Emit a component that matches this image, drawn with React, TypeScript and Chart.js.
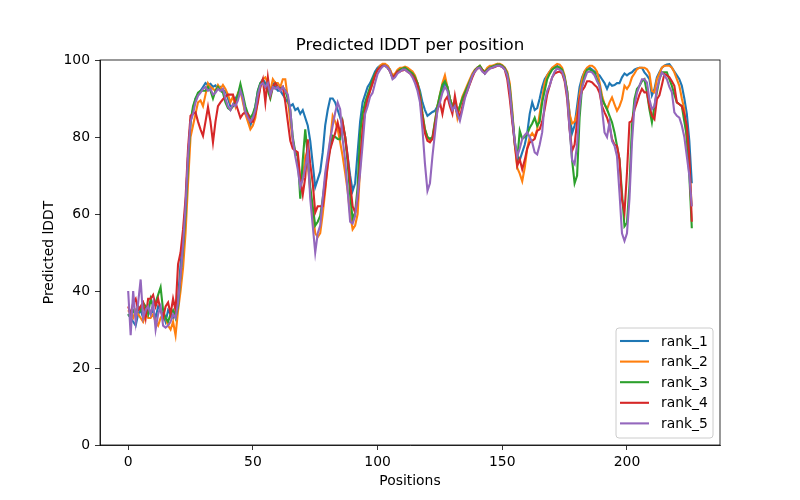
import React, { useEffect, useRef } from "react";
import { Chart, registerables } from "chart.js";

Chart.register(...registerables);

const chartTitle = "Predicted lDDT per position";
const xLabel = "Positions";
const yLabel = "Predicted lDDT";
const seriesNames = ["rank_1", "rank_2", "rank_3", "rank_4", "rank_5"];
const seriesColors = ["#1f77b4", "#ff7f0e", "#2ca02c", "#d62728", "#9467bd"];
const xTicks = [0, 50, 100, 150, 200];
const yTicks = [0, 20, 40, 60, 80, 100];

const rank1 = [
  34, 33, 32, 31, 34, 35, 33, 34, 36, 34,
  35, 33, 36, 35, 34, 32, 35, 34, 33, 35,
  38, 47, 53, 62, 75, 84, 87, 90, 91, 92,
  93, 94, 93.5, 93.8, 93, 93.4, 92.5, 93, 92, 92,
  90, 88, 88, 90, 91, 93, 90, 86, 85, 83,
  85, 88, 92, 94, 95, 94, 93, 91, 94, 93,
  92, 92, 91, 90, 89, 88, 88.5, 87, 87.5, 86,
  87, 85, 83, 79, 73, 67, 69, 71, 76, 83,
  87, 90, 90, 89, 87, 85, 83, 80, 75, 70,
  66, 68, 76, 84, 89, 91, 93, 94, 95.5, 97,
  98, 98.5, 98.7, 98.7, 98.5, 97.5, 95.5, 96, 97, 97.5,
  97.8, 98, 97.5, 97, 96.5, 95, 94, 92, 89, 87,
  85.5, 86, 86.5, 86.8, 88, 90, 92, 94, 93, 90,
  88, 88.5, 86, 88, 90, 91.5, 93, 94, 96, 97,
  98, 98, 97.5, 96.5, 97.5, 98, 98, 98.5, 99, 98.8,
  98.5, 98, 96, 92, 85, 78, 75, 74, 76, 78,
  81, 86, 89, 87, 87.5, 90, 93, 95, 96, 97,
  97.8, 98, 98.5, 98, 97, 95, 92, 86, 81, 83,
  88, 93, 95.5, 97, 97.8, 98, 97.5, 97, 96.5, 96,
  95, 94, 92.5, 94, 93.3, 93.5, 94, 94, 95.5, 96.5,
  96, 96.5, 96.8, 97.5, 97.8, 98, 98, 96.8, 96, 95,
  90.8, 92.4, 95.5, 96.8, 98, 98.5, 98.8, 98.9, 98, 97,
  96, 95, 93.3, 90, 86, 79, 68,
];

const rank2 = [
  35, 34, 33, 35, 34, 33, 32, 34, 33, 33,
  34, 32, 31, 33, 34, 33, 31, 30, 32, 28.5,
  35, 40, 46, 55, 68, 80, 83, 86, 89, 89.5,
  88, 91, 94, 93, 92.5, 92, 93.5, 92.5, 93.5, 92.5,
  91, 89, 90.5, 88, 91.5, 92, 89, 86, 84, 82,
  83, 85, 90, 93, 95, 95.5, 94, 92, 95, 94,
  94, 93, 95, 95, 90, 84, 79, 76, 75, 68,
  69, 75, 73, 66, 60, 55, 54, 55, 60, 66,
  73, 79, 85.5, 84, 82, 78.6, 75, 70.7, 66, 60,
  56, 57, 60, 72, 82, 87, 90, 92, 94, 96,
  97.5, 98.5, 99, 99, 98.5, 97.5, 96, 96.5, 97.5, 98,
  98, 98.3, 98, 97.5, 97, 96, 94, 91, 86, 82,
  80, 79, 79.5, 84, 88, 91, 94, 96, 93, 90,
  88, 89, 85, 88, 90.5, 92, 93.5, 95, 96.5, 97.5,
  98, 98.5, 97.5, 97, 98, 98.5, 98.5, 98.8, 99, 99,
  98.7, 98, 97, 94, 87, 78, 72, 70.5, 68.5, 72,
  77, 80, 81, 80, 82, 86, 90, 94, 96, 97,
  98, 98.5, 99, 98.8, 98, 96, 92, 86, 83.5, 84,
  86, 91, 95, 97, 98, 98.5, 98.5, 98, 97, 94.2,
  90.8, 88.5, 87.2, 89, 90.3, 88.5, 86.8, 88, 89.8, 93.3,
  92.5, 93.5, 95.5, 96.5, 97.6, 98, 98, 98, 97.6, 96.5,
  92, 91.6, 95, 96.5, 98, 98.5, 98.5, 98.5, 98, 96.8,
  95, 93.3, 90, 87.2, 78.6, 72, 62,
];

const rank3 = [
  34, 33, 35, 34, 36, 35, 37, 36, 34, 38,
  36, 37, 39, 41, 35, 33, 32, 34, 35, 33,
  36, 44, 51, 60, 73, 84, 88, 90, 91.5, 92,
  92, 92, 93, 92, 90, 92, 93, 92, 91.5, 89,
  87.5, 87, 88, 89, 91, 93.8, 91, 88, 86, 85,
  86, 88, 92, 94, 94.5, 93, 92, 90, 93, 94,
  93, 92.5, 93, 92, 90, 87, 80, 76, 75, 64,
  74, 82, 75, 67, 62, 57, 58, 59.5, 64, 69,
  74, 77, 80.3, 80, 79.5, 79.4, 83.8, 80, 73.3, 65,
  58.6, 60.4, 67, 81, 86, 89, 91, 93, 95, 96.5,
  97.5, 98, 98.5, 98.5, 98, 97, 95.5, 96, 97, 97.5,
  97.8, 98, 97.5, 97, 96.5, 95.5, 94, 91, 86, 82,
  80, 79.5, 80, 84, 88, 91, 93.5, 94.5, 93, 90,
  88, 89, 86, 88, 90, 91.5, 93, 94.5, 96, 97.3,
  98, 98.5, 97.5, 96.8, 97.5, 98, 98.3, 98.5, 98.8, 98.8,
  98.5, 97.8, 96.5, 93, 86, 79, 74, 81.6, 79.5, 80,
  80.8, 82.4, 83.5, 85, 82.9, 84, 89, 92, 95, 96.4,
  97.5, 98, 98.2, 98, 97.5, 95.5, 92, 83, 74, 68,
  70, 85, 93, 96, 97.5, 97.6, 97.2, 96.8, 95, 93.3,
  89.8, 88.5, 87.2, 85.5, 83.8, 81.2, 77.7, 74.2, 65.5, 56.8,
  57.7, 67.3, 82.9, 89.8, 92.5, 93.3, 94.5, 95, 91.6, 87.2,
  83.8, 88, 91.6, 95, 96.8, 96.8, 96.8, 95, 93.3, 91,
  89, 88.5, 88, 84, 80.3, 70, 56.3,
];

const rank4 = [
  36, 34, 37, 38, 35, 36, 37, 33, 38, 38,
  39, 36, 38, 35, 33, 36, 37, 34, 38, 35,
  47, 50, 56, 64, 77, 85.5, 86, 86.4, 84, 82,
  80.3, 84, 87.8, 84, 78.6, 84, 88, 89, 89.8, 90.5,
  91, 91, 91, 89, 87, 85, 86, 86.5, 86, 84,
  84, 86, 89, 93, 95, 89, 95.5, 90.7, 93, 94,
  93, 92.4, 93, 89, 84, 79, 77, 76.5, 76, 69,
  65, 69.5, 79.4, 73, 68, 60.4, 62, 62, 62, 67,
  72.5, 76.8, 79, 81, 83.8, 81, 83.8, 80, 75, 68,
  62, 60.4, 64, 73.3, 82, 87, 90, 92, 94, 96,
  97.5, 98, 98.5, 98.5, 98, 97, 95.5, 96, 97, 97,
  97.3, 97.5, 97, 96.5, 96, 95, 93.5, 90, 85, 81,
  79, 78.6, 79.5, 83, 87, 89, 86, 89.5, 90.5, 88,
  86, 90.7, 87, 85, 88, 90.5, 92, 93.8, 95.5, 97,
  97.8, 98, 97.2, 96.5, 97.2, 97.8, 98, 98.2, 98.5, 98.5,
  98.2, 97.5, 95, 90, 84, 78.6, 72.5, 74.2, 71.6, 74,
  77, 78.6, 79, 79.5, 81.6, 82, 84, 87.2, 91, 93.3,
  95.5, 96.5, 96.8, 97, 96.5, 94.5, 90, 82, 76.4, 78,
  84, 90, 92, 93, 94.5, 94.5, 94.2, 93.5, 92.9, 91.5,
  88, 86.4, 85, 82.9, 79.5, 78, 77.7, 74.2, 63.8, 60.4,
  70.7, 83.8, 84.2, 87, 89, 91, 92.5, 91.6, 91.6, 88,
  85.5, 84.6, 89.8, 90.8, 93.5, 96.4, 96, 95.5, 94.5, 93.3,
  89, 88.5, 88, 86, 82.9, 75, 58,
];

const rank5 = [
  40, 28.5, 40, 32, 37, 43, 33, 35, 36, 34,
  37, 30, 34, 36, 31, 30.5, 31, 32, 34, 33,
  37, 44, 52, 62, 75, 84, 86, 89, 90.7, 91.5,
  92.5, 93, 92, 92.5, 91, 91.5, 92.5, 92, 92.5, 90,
  88, 87, 88.5, 88, 89.5, 92, 90, 86.5, 85, 84,
  85, 87, 91, 93.5, 94, 93, 94, 91, 93, 92.5,
  93, 92, 93, 92, 91, 87.2, 79.4, 75, 71.6, 67,
  69, 72, 76, 64, 57, 50, 55, 57, 64, 70.7,
  75, 79.4, 83, 86.3, 89, 87.2, 79.4, 74, 66, 58,
  57.5, 59.5, 65, 70.7, 78, 86, 88, 90.5, 91.5, 94,
  96.4, 97.5, 98.3, 98.5, 98, 97, 95, 95.5, 96.5, 97,
  97.5, 97.5, 97, 96.5, 95.5, 94, 92, 89, 82, 73,
  66, 68, 75, 81, 87, 89, 91.5, 93, 92, 89,
  87, 88, 86, 84.2, 87, 90, 92, 94, 96, 97,
  97.8, 98, 97, 96.5, 97.2, 97.8, 98, 98.3, 98.5, 98.5,
  98.2, 97.5, 96, 92, 85, 79, 75, 77, 79.5, 80.5,
  81.2, 80, 78.6, 76, 75.5, 78, 81.2, 89, 92, 93.3,
  95.5, 97, 97.8, 97.5, 97, 95, 91, 82, 74, 73,
  78, 88, 93, 95, 96.8, 97, 96.8, 96, 94.5, 93.3,
  87.2, 81.2, 80, 83.8, 79, 77.7, 75, 65.5, 55, 53,
  55, 64, 78.6, 88, 91.5, 93.3, 95, 95, 94.2, 89.8,
  87.2, 88, 92.5, 95, 96.8, 96, 95, 93, 91.6, 86.4,
  85.5, 85, 83, 80, 75, 70, 62,
];

const seriesValues = [rank1, rank2, rank3, rank4, rank5];

const FONT = "'DejaVu Sans', sans-serif";

const framePlugin = {
  id: "frameAndLegend",
  afterDraw(chart: any) {
    const { ctx, chartArea } = chart;
    const { left, top, right, bottom } = chartArea;
    ctx.save();
    ctx.strokeStyle = "#000";
    ctx.lineWidth = 0.8;
    ctx.strokeRect(left, top, right - left, bottom - top);

    // title centred over the axes
    ctx.fillStyle = "#000";
    ctx.font = `16.7px ${FONT}`;
    ctx.textAlign = "center";
    ctx.textBaseline = "middle";
    ctx.fillText(chartTitle, (left + right) / 2, top - 14);

    // legend (matplotlib style, lower right)
    const boxW = 97;
    const boxH = 110;
    const bx = right - 7 - boxW;
    const by = bottom - 7 - boxH;
    const r = 3;
    ctx.beginPath();
    ctx.moveTo(bx + r, by);
    ctx.lineTo(bx + boxW - r, by);
    ctx.arcTo(bx + boxW, by, bx + boxW, by + r, r);
    ctx.lineTo(bx + boxW, by + boxH - r);
    ctx.arcTo(bx + boxW, by + boxH, bx + boxW - r, by + boxH, r);
    ctx.lineTo(bx + r, by + boxH);
    ctx.arcTo(bx, by + boxH, bx, by + boxH - r, r);
    ctx.lineTo(bx, by + r);
    ctx.arcTo(bx, by, bx + r, by, r);
    ctx.closePath();
    ctx.fillStyle = "rgba(255,255,255,0.8)";
    ctx.fill();
    ctx.strokeStyle = "#cccccc";
    ctx.lineWidth = 1;
    ctx.stroke();

    ctx.font = `13.9px ${FONT}`;
    ctx.textBaseline = "middle";
    ctx.textAlign = "left";
    chart.data.datasets.forEach((ds: any, i: number) => {
      const cy = by + 13 + i * 20.6;
      ctx.strokeStyle = ds.borderColor;
      ctx.lineWidth = 2.1;
      ctx.beginPath();
      ctx.moveTo(bx + 4, cy);
      ctx.lineTo(bx + 33, cy);
      ctx.stroke();
      ctx.fillStyle = "#000";
      ctx.fillText(ds.label, bx + 45, cy + 1);
    });
    ctx.restore();
  },
};

export default function App() {
  const canvasRef = useRef<HTMLCanvasElement | null>(null);

  useEffect(() => {
    if (!canvasRef.current) return;
    const datasets = seriesNames.map((name, k) => ({
      label: name,
      data: seriesValues[k].map((v, i) => ({ x: i, y: v })),
      borderColor: seriesColors[k],
      backgroundColor: seriesColors[k],
      borderWidth: 2.1,
      pointRadius: 0,
      tension: 0,
      fill: false,
      order: seriesNames.length - 1 - k,
    }));

    const chart = new Chart(canvasRef.current, {
      type: "line",
      data: { datasets },
      options: {
        animation: false,
        responsive: true,
        maintainAspectRatio: false,
        devicePixelRatio: 1,
        layout: { padding: { left: 0, right: 80, top: 60, bottom: 0 } },
        plugins: {
          legend: { display: false },
          tooltip: { enabled: false },
          title: { display: false },
        },
        scales: {
          x: {
            type: "linear",
            min: -11.3,
            max: 237.3,
            afterFit: (scale: any) => {
              scale.height = 55;
            },
            afterBuildTicks: (scale: any) => {
              scale.ticks = xTicks.map((v) => ({ value: v }));
            },
            ticks: {
              color: "#000",
              font: { family: FONT, size: 13.9 },
              padding: 4,
              maxRotation: 0,
              includeBounds: false,
            },
            grid: {
              display: true,
              drawOnChartArea: false,
              drawTicks: true,
              tickLength: 5,
              color: "#000",
              lineWidth: 0.8,
            },
            border: { display: true, color: "#000", width: 0.8 },
            title: {
              display: true,
              text: xLabel,
              color: "#000",
              font: { family: FONT, size: 13.9 },
              padding: { top: 10, bottom: 10 },
            },
          },
          y: {
            type: "linear",
            min: 0,
            max: 100,
            afterFit: (scale: any) => {
              scale.width = 100;
            },
            afterBuildTicks: (scale: any) => {
              scale.ticks = yTicks.map((v) => ({ value: v }));
            },
            ticks: {
              color: "#000",
              font: { family: FONT, size: 13.9 },
              padding: 5,
            },
            grid: {
              display: true,
              drawOnChartArea: false,
              drawTicks: true,
              tickLength: 5,
              color: "#000",
              lineWidth: 0.8,
            },
            border: { display: true, color: "#000", width: 0.8 },
            title: {
              display: true,
              text: yLabel,
              color: "#000",
              font: { family: FONT, size: 13.9 },
              padding: { top: 41, bottom: 41 },
            },
          },
        },
      },
      plugins: [framePlugin],
    });
    return () => chart.destroy();
  }, []);

  return (
    <div
      style={{
        position: "fixed",
        left: 0,
        top: 0,
        width: 800,
        height: 500,
        background: "#fff",
      }}
    >
      <canvas ref={canvasRef} />
    </div>
  );
}
